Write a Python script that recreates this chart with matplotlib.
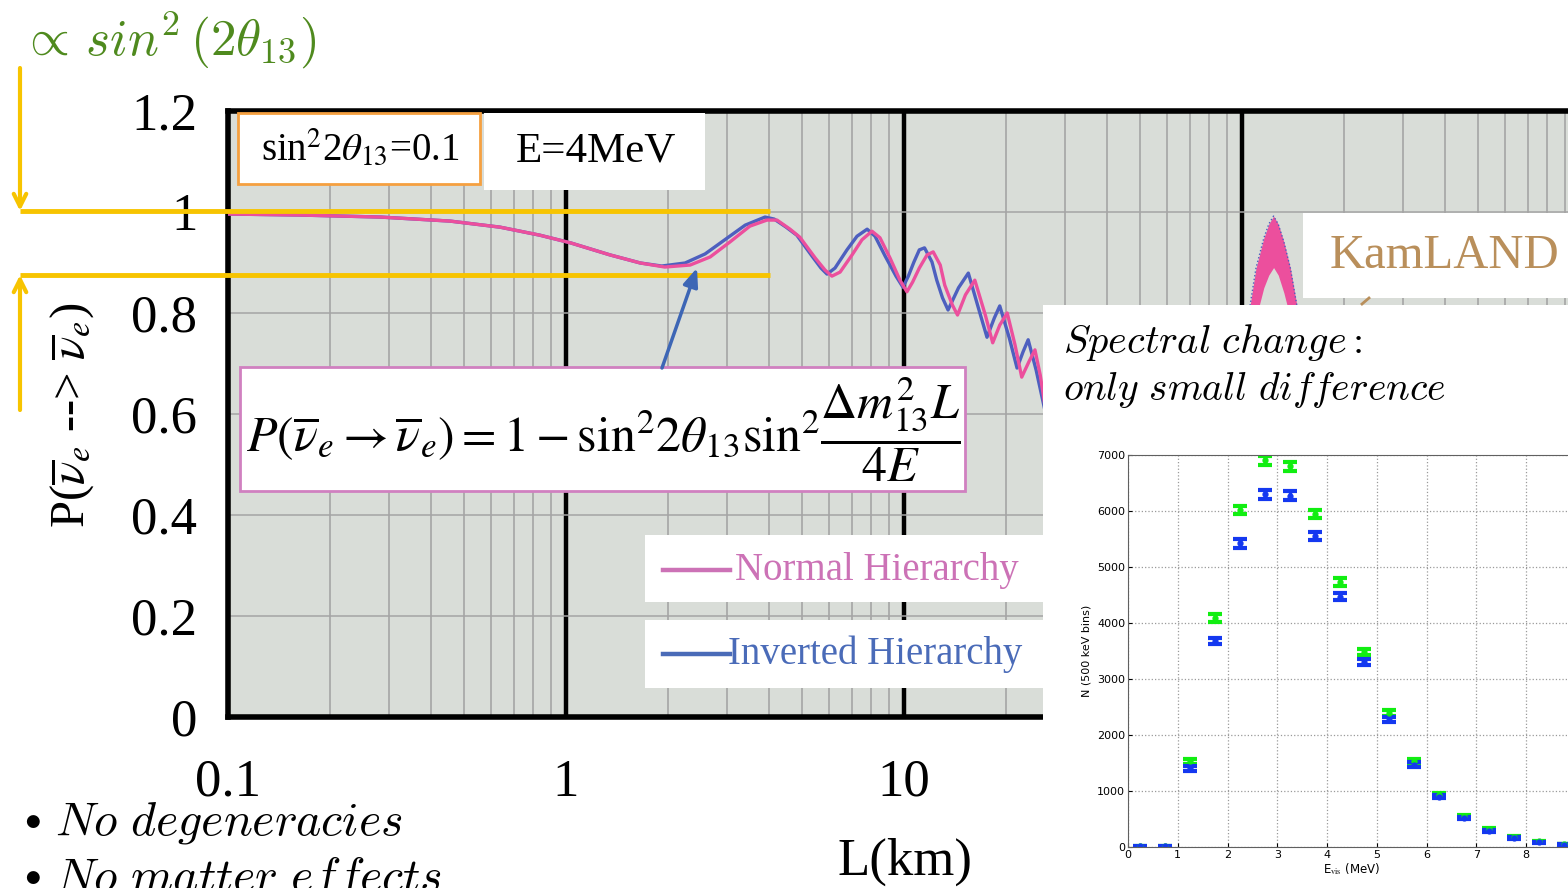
import numpy as np
import matplotlib
matplotlib.use("Agg")
import matplotlib.pyplot as plt
from matplotlib.patches import Rectangle
from matplotlib.ticker import LogLocator, NullFormatter

W, H = 1568, 888

# reactor anti-nu_e survival probability at E = 4 MeV
L_NH = [0.100, 0.163, 0.282, 0.454, 0.638, 0.838, 1.03, 1.35, 1.66, 1.96,
        2.33, 2.67, 3.06, 3.50, 3.93, 4.21, 4.60, 4.92, 5.46, 5.84,
        6.12, 6.47, 7.02, 7.51, 8.04, 8.49, 9.09, 9.73, 10.2, 10.6,
        11.1, 11.7, 12.2, 12.8, 13.2, 13.9, 14.4, 15.2, 16.2, 17.4,
        18.3, 19.2, 20.2, 21.3, 22.3, 23.4, 24.4, 25.3, 26.1]
P_NH = [0.996, 0.994, 0.990, 0.982, 0.970, 0.954, 0.939, 0.915, 0.899, 0.891,
        0.895, 0.911, 0.941, 0.972, 0.984, 0.984, 0.966, 0.950, 0.909, 0.885,
        0.873, 0.881, 0.915, 0.945, 0.962, 0.949, 0.909, 0.865, 0.842, 0.861,
        0.889, 0.915, 0.921, 0.895, 0.855, 0.816, 0.796, 0.836, 0.865, 0.796,
        0.741, 0.776, 0.800, 0.737, 0.673, 0.703, 0.727, 0.677, 0.618]

L_IH = [0.100, 0.163, 0.282, 0.454, 0.638, 0.838, 1.03, 1.35, 1.66, 1.92,
        2.25, 2.58, 2.95, 3.39, 3.88, 4.13, 4.48, 4.82, 5.34, 5.68,
        5.92, 6.25, 6.78, 7.26, 7.78, 8.21, 8.79, 9.47, 9.93, 10.3,
        10.7, 11.1, 11.5, 12.1, 12.5, 13.0, 13.5, 14.5, 15.5, 16.6,
        17.6, 18.5, 19.2, 20.5, 21.6, 22.5, 23.3, 24.6, 26.1]
P_IH = [0.996, 0.994, 0.990, 0.982, 0.970, 0.954, 0.939, 0.915, 0.899, 0.893,
        0.899, 0.917, 0.945, 0.974, 0.990, 0.986, 0.970, 0.954, 0.913, 0.889,
        0.877, 0.889, 0.925, 0.952, 0.966, 0.952, 0.913, 0.873, 0.851, 0.873,
        0.901, 0.925, 0.929, 0.901, 0.865, 0.830, 0.806, 0.850, 0.879, 0.810,
        0.752, 0.790, 0.814, 0.750, 0.691, 0.723, 0.747, 0.687, 0.608]

# KamLAND bump: fast oscillation band (upper / lower envelope)
L_KL = [104, 110, 116, 120, 124, 128, 133, 139, 147]
P_KL_HI = [0.786, 0.889, 0.948, 0.976, 0.992, 0.976, 0.941, 0.889, 0.796]
P_KL_LO = [0.690, 0.790, 0.850, 0.875, 0.890, 0.875, 0.840, 0.790, 0.700]

Y_TICKS = [0, 0.2, 0.4, 0.6, 0.8, 1.0, 1.2]
Y_LABELS = ["0", "0.2", "0.4", "0.6", "0.8", "1", "1.2"]
X_TICKS = [0.1, 1, 10]
X_LABELS = ["0.1", "1", "10"]

# visible energy spectrum, 500 keV bins
E_VIS = [0.25, 0.75, 1.25, 1.75, 2.25, 2.75, 3.25, 3.75, 4.25,
         4.75, 5.25, 5.75, 6.25, 6.75, 7.25, 7.75, 8.25, 8.75]
N_GREEN = [10, 10, 1530, 4090, 6020, 6910, 6800, 5945, 4735,
           3480, 2395, 1530, 935, 548, 316, 179, 101, 54]
N_BLUE = [10, 10, 1410, 3680, 5420, 6300, 6270, 5550, 4470,
          3305, 2275, 1470, 900, 518, 286, 155, 83, 42]
ERR_GREEN = [10, 10, 45, 65, 75, 80, 80, 75, 70, 60, 50, 40, 30, 25, 20, 15, 12, 8]
ERR_BLUE = [10, 10, 45, 60, 75, 80, 80, 75, 65, 60, 50, 40, 30, 25, 20, 15, 12, 8]

plt.rcParams["mathtext.fontset"] = "stix"
SERIF = "Liberation Serif"
PINK = "#ec4f9d"
BLUE = "#4d5fbf"
YELLOW = "#f7c400"

fig = plt.figure(figsize=(W / 100, H / 100), dpi=100)
fig.patch.set_facecolor("white")

# main axes: log L, one decade = 338 px
x0, x1, y_top, y_bot, dec_px = 228, 1600, 111, 717, 338
lmax = 0.1 * 10 ** ((x1 - x0) / dec_px)
ax = fig.add_axes([x0 / W, 1 - y_bot / H, (x1 - x0) / W, (y_bot - y_top) / H])
ax.set_xscale("log")
ax.set_xlim(0.1, lmax)
ax.set_ylim(0, 1.2)
ax.set_facecolor("#d9ddd8")
ax.xaxis.set_minor_locator(LogLocator(base=10, subs=np.arange(2, 10)))
ax.xaxis.set_minor_formatter(NullFormatter())
ax.set_xticks(X_TICKS, X_LABELS)
ax.set_yticks(Y_TICKS, Y_LABELS)
ax.grid(which="minor", axis="x", color="#a0a0a0", lw=1.1)
ax.grid(which="major", axis="y", color="#a4a4a4", lw=1.1)
for dec in [1, 10, 100]:
    ax.axvline(dec, color="black", lw=3.2, zorder=1.5)
ax.tick_params(which="both", length=0)
ax.tick_params(axis="x", pad=30, labelsize=38)
ax.tick_params(axis="y", pad=22, labelsize=38)
for lab in ax.get_xticklabels() + ax.get_yticklabels():
    lab.set_fontfamily(SERIF)
for side in ["top", "left", "bottom"]:
    ax.spines[side].set_linewidth(4.0)
    ax.spines[side].set_color("black")
ax.spines["right"].set_visible(False)

ax.plot(L_IH, P_IH, color=BLUE, lw=2.4, zorder=3)
ax.plot(L_NH, P_NH, color=PINK, lw=2.4, zorder=3)
ax.fill_between(L_KL, P_KL_LO, P_KL_HI, color=PINK, lw=0, zorder=3)
ax.plot(L_KL, P_KL_HI, color=BLUE, lw=1.0, ls=":", zorder=3)

# overlay in pixel coordinates for the slide decorations
ov = fig.add_axes([0, 0, 1, 1], zorder=5)
ov.set_xlim(0, W)
ov.set_ylim(H, 0)
ov.axis("off")


def box(x, y, w, h, edge="none", lw=0):
    ov.add_patch(Rectangle((x, y), w, h, facecolor="white", edgecolor=edge, lw=lw))


box(238, 113, 242, 71, edge="#f5a040", lw=2)
box(484, 113, 221, 77)
box(240, 367, 725, 124, edge="#d080c0", lw=2)
box(645, 535, 400, 67)
box(645, 620, 400, 68)
box(1303, 213, 265, 85)
box(1043, 305, 525, 583)

ov.text(360, 149, r"sin$^2$2$\theta_{13}$=0.1", fontsize=28, family=SERIF,
        ha="center", va="center")
ov.text(596, 151, "E=4MeV", fontsize=31, family=SERIF, ha="center", va="center")
ov.text(603, 430,
        r"$P\left(\overline{\nu}_e \rightarrow \overline{\nu}_e\right)"
        r" = 1 - \mathrm{sin}^2 2\theta_{13}\mathrm{sin}^2"
        r" \dfrac{\Delta m^2_{13} L}{4E}$",
        fontsize=36, ha="center", va="center")

# legend boxes
ov.plot([663, 730], [570, 570], color="#cc72b6", lw=3.2)
ov.text(735, 570, "Normal Hierarchy", color="#cc72b6", fontsize=28, family=SERIF,
        va="center")
ov.plot([663, 730], [654, 654], color="#4a6bb8", lw=3.2)
ov.text(728, 654, "Inverted Hierarchy", color="#4a6bb8", fontsize=28, family=SERIF,
        va="center")

ov.text(1445, 256, "KamLAND", color="#b98f5b", fontsize=35, family=SERIF,
        ha="center", va="center")
ov.plot([1362, 1369], [304, 298], color="#b98f5b", lw=2)

# axis titles
ov.text(72, 415, r"P($\overline{\nu}_e$ --> $\overline{\nu}_e$)", fontsize=35,
        family=SERIF, rotation=90, ha="center", va="center")
ov.text(905, 862, "L(km)", fontsize=38, family=SERIF, ha="center", va="center")

# yellow sin^2(2theta13) depth markers and arrows
ov.plot([20, 770], [211, 211], color=YELLOW, lw=3.5, solid_capstyle="butt")
ov.plot([20, 770], [275, 275], color=YELLOW, lw=3.5, solid_capstyle="butt")
ov.annotate("", xy=(20, 211), xytext=(20, 68),
            arrowprops=dict(arrowstyle="->,head_length=0.9,head_width=0.45",
                            color=YELLOW, lw=3, shrinkA=0, shrinkB=0))
ov.annotate("", xy=(20, 275), xytext=(20, 410),
            arrowprops=dict(arrowstyle="->,head_length=0.9,head_width=0.45",
                            color=YELLOW, lw=3, shrinkA=0, shrinkB=0))
ov.text(20, 40, r"$\propto\, sin^2\,(2\theta_{13})$", color="#4f8a1e", fontsize=37,
        math_fontfamily="cm", ha="left", va="center")

# blue pointer from the formula to the first dip
ov.annotate("", xy=(697, 268), xytext=(662, 368),
            arrowprops=dict(arrowstyle="-|>,head_length=1.1,head_width=0.45",
                            color="#3d66b5", lw=2.5, shrinkA=0, shrinkB=0))

ov.text(1063, 342, r"$\mathit{Spectral\ change:}$", fontsize=29,
        math_fontfamily="cm", ha="left", va="center")
ov.text(1063, 390, r"$\mathit{only\ small\ difference}$", fontsize=28.5,
        math_fontfamily="cm", ha="left", va="center")
for yb, txt in [(822, r"$\mathit{No\ degeneracies}$"),
                (878, r"$\mathit{No\ matter\ effects}$")]:
    ov.text(32, yb - 4, r"$\bullet$", fontsize=24, math_fontfamily="cm",
            ha="center", va="center")
    ov.text(55, yb, txt, fontsize=34.5, math_fontfamily="cm", ha="left", va="center")

# inset: visible energy spectrum for the two hierarchies
ins = fig.add_axes([1128 / W, 1 - 847 / H, (1576 - 1128) / W, (847 - 455) / H],
                   zorder=6)
ins.set_xlim(0, 9)
ins.set_ylim(0, 7000)
ins.errorbar(E_VIS, N_GREEN, yerr=ERR_GREEN, fmt="o", ms=3.5, color="#11ee11",
             elinewidth=2.5, capsize=5, capthick=3)
ins.errorbar(E_VIS, N_BLUE, yerr=ERR_BLUE, fmt="o", ms=3.5, color="#1438f0",
             elinewidth=2.5, capsize=5, capthick=3)
ins.set_xticks(range(0, 9))
ins.set_yticks(range(0, 7001, 1000))
ins.grid(True, ls=":", color="#9a9a9a", lw=0.9)
ins.tick_params(labelsize=8, direction="in", length=3, pad=2)
ins.set_ylabel("N (500 keV bins)", fontsize=8, labelpad=4)
ins.set_xlabel(r"E$_{\rm vis}$ (MeV)", fontsize=8.5, labelpad=1)
for s in ins.spines.values():
    s.set_color("#606060")

fig.savefig("out.png", dpi=100)
